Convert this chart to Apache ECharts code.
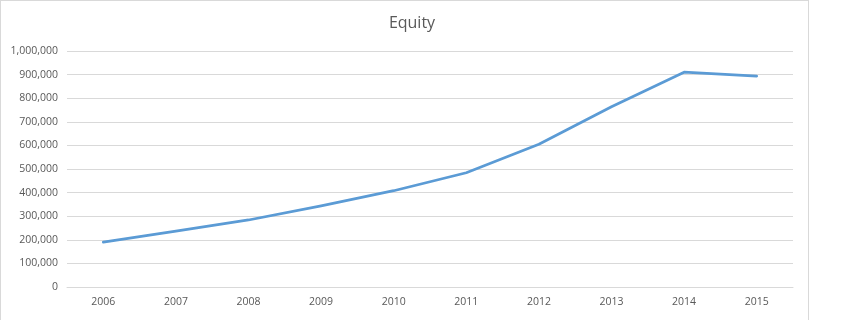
<!DOCTYPE html>
<html>
<head>
<meta charset="utf-8">
<script src="https://cdn.jsdelivr.net/npm/echarts@6/dist/echarts.min.js"></script>
<style>
html,body{margin:0;padding:0;background:#fff;}
#wrap{position:absolute;left:0;top:0;width:809px;height:320px;border-left:1px solid #d9d9d9;border-top:1px solid #d9d9d9;border-right:1px solid #d9d9d9;box-sizing:border-box;}
#c{position:absolute;left:0;top:0;width:857px;height:320px;}
</style>
</head>
<body>
<div id="wrap"></div>
<div id="c"></div>
<script>
const title = 'Equity';
const categories = ['2006','2007','2008','2009','2010','2011','2012','2013','2014','2015'];
const equity = [190000, 237000, 284000, 344000, 408000, 484000, 605000, 764000, 910000, 894000];

const chart = echarts.init(document.getElementById('c'), null, {renderer:'canvas'});
chart.setOption({
  animation:false,
  title:{text:title,left:407,top:10,textAlign:'center',
    textStyle:{fontFamily:'Open Sans',fontWeight:'normal',fontSize:16,color:'#595959'}},
  grid:{left:67,top:51,width:726,height:236,containLabel:false},
  xAxis:{type:'category',data:categories,boundaryGap:true,
    axisLine:{show:true,lineStyle:{color:'#d9d9d9'}},
    axisTick:{show:false},
    axisLabel:{color:'#595959',fontFamily:'Open Sans',fontSize:10.5,margin:10}},
  yAxis:{type:'value',min:0,max:1000000,interval:100000,
    axisLine:{show:false},axisTick:{show:false},
    splitLine:{lineStyle:{color:'#d9d9d9'}},
    axisLabel:{color:'#595959',fontFamily:'Open Sans',fontSize:10.5,margin:9,
      formatter:v=>v.toLocaleString('en-US')}},
  series:[{type:'line',data:equity,showSymbol:false,symbol:'none',
    lineStyle:{color:'#5b9bd5',width:2.75,cap:'round',join:'round'}}]
});
</script>
</body>
</html>
